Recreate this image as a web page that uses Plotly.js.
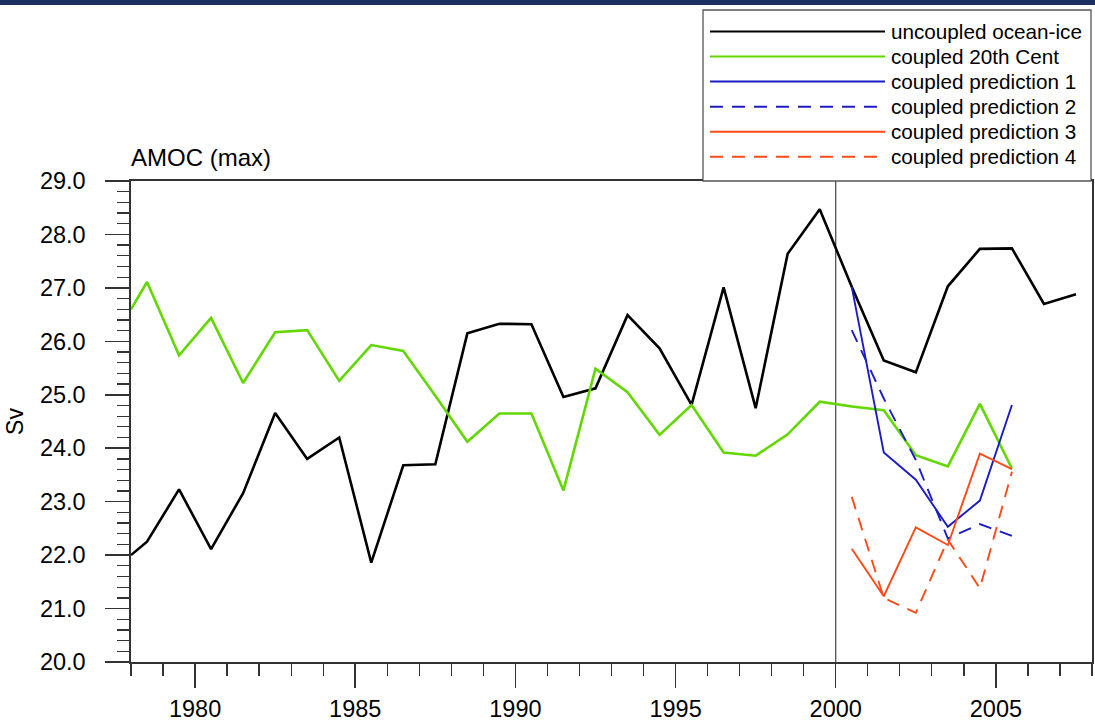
<!DOCTYPE html>
<html>
<head>
<meta charset="utf-8">
<script src="https://cdn.plot.ly/plotly-3.0.1.min.js"></script>
<style>
  html, body { margin: 0; padding: 0; background: #ffffff; }
  #chart { width: 1095px; height: 725px; }
</style>
</head>
<body>
<div id="chart"></div>
<script>
// ---- data ----
const yearsUncoupled = [1978.0, 1978.5, 1979.5, 1980.5, 1981.5, 1982.5, 1983.5, 1984.5, 1985.5, 1986.5,
  1987.5, 1988.5, 1989.5, 1990.5, 1991.5, 1992.5, 1993.5, 1994.5, 1995.5, 1996.5,
  1997.5, 1998.5, 1999.5, 2000.5, 2001.5, 2002.5, 2003.5, 2004.5, 2005.5, 2006.5, 2007.5];
const uncoupledOceanIce = [22.00, 22.25, 23.23, 22.11, 23.16, 24.66, 23.80, 24.20, 21.86, 23.68,
  23.70, 26.15, 26.33, 26.32, 24.96, 25.12, 26.49, 25.87, 24.81, 27.01,
  24.75, 27.64, 28.47, 27.02, 25.64, 25.42, 27.03, 27.73, 27.74, 26.70, 26.88];

const years20thCent = [1978.0, 1978.5, 1979.5, 1980.5, 1981.5, 1982.5, 1983.5, 1984.5, 1985.5, 1986.5,
  1987.5, 1988.5, 1989.5, 1990.5, 1991.5, 1992.5, 1993.5, 1994.5, 1995.5, 1996.5,
  1997.5, 1998.5, 1999.5, 2000.5, 2001.5, 2002.5, 2003.5, 2004.5, 2005.5];
const coupled20thCent = [26.60, 27.11, 25.74, 26.44, 25.22, 26.17, 26.21, 25.26, 25.93, 25.82,
  24.98, 24.12, 24.65, 24.65, 23.21, 25.49, 25.05, 24.25, 24.81, 23.92,
  23.86, 24.26, 24.87, 24.78, 24.71, 23.87, 23.66, 24.83, 23.62];

const yearsPrediction = [2000.5, 2001.5, 2002.5, 2003.5, 2004.5, 2005.5];
const prediction1 = [27.02, 23.92, 23.41, 22.53, 23.02, 24.81];
const prediction2 = [26.21, 24.93, 23.78, 22.31, 22.58, 22.36];
const prediction3 = [22.12, 21.23, 22.52, 22.19, 23.90, 23.61];
const prediction4 = [23.09, 21.20, 20.92, 22.29, 21.38, 23.56];

const seriesNames = ['uncoupled ocean-ice', 'coupled 20th Cent', 'coupled prediction 1',
  'coupled prediction 2', 'coupled prediction 3', 'coupled prediction 4'];
const yTickVals = [20, 21, 22, 23, 24, 25, 26, 27, 28, 29];
const xTickVals = [1980, 1985, 1990, 1995, 2000, 2005];
const initYear = 2000;

// ---- styling ----
const FONT = 'Liberation Sans, Arial, Helvetica, sans-serif';
const BLACK = '#000000';
const GREEN = '#62d800';
const BLUE = '#1c1cc6';
const ORANGE = '#ff4a17';
const styles = [
  {color: BLACK, width: 2.6, dash: 'solid'},
  {color: GREEN, width: 2.6, dash: 'solid'},
  {color: BLUE, width: 1.9, dash: 'solid'},
  {color: BLUE, width: 1.9, dash: '13px,9px'},
  {color: ORANGE, width: 1.9, dash: 'solid'},
  {color: ORANGE, width: 1.9, dash: '13px,9px'}
];
const xs = [yearsUncoupled, years20thCent, yearsPrediction, yearsPrediction, yearsPrediction, yearsPrediction];
const ys = [uncoupledOceanIce, coupled20thCent, prediction1, prediction2, prediction3, prediction4];

const traces = ys.map((y, i) => ({
  x: xs[i], y: y, name: seriesNames[i], type: 'scatter', mode: 'lines',
  line: {color: styles[i].color, width: styles[i].width, dash: styles[i].dash},
  showlegend: false
}));

// plot area geometry (px) for legend placement in paper coords
const L = 131, T = 181, W = 961, H = 481;
const px2x = p => (p - L) / W;
const py2y = p => (T + H - p) / H;

const shapes = [
  // navy bar across the very top
  {type: 'rect', xref: 'paper', yref: 'paper', x0: px2x(-10), x1: px2x(1105), y0: py2y(5), y1: py2y(-10),
   fillcolor: '#1b2f60', line: {width: 0}, layer: 'above'},
  // vertical line at initialisation year
  {type: 'line', xref: 'x', yref: 'paper', x0: initYear, x1: initYear, y0: 0, y1: 1,
   line: {color: '#444444', width: 1.2}, layer: 'below'},
  // legend box
  {type: 'rect', xref: 'paper', yref: 'paper', x0: px2x(703), x1: px2x(1091), y0: py2y(181), y1: py2y(10),
   fillcolor: '#ffffff', line: {color: '#555555', width: 1.3}, layer: 'above'}
];
const annotations = [];
seriesNames.forEach((name, i) => {
  const py = 31.5 + 25.05 * i;
  shapes.push({type: 'line', xref: 'paper', yref: 'paper', x0: px2x(710), x1: px2x(885), y0: py2y(py), y1: py2y(py),
    line: {color: styles[i].color, width: 2, dash: styles[i].dash}, layer: 'above'});
  annotations.push({xref: 'paper', yref: 'paper', x: px2x(889), y: py2y(py), xanchor: 'left', yanchor: 'middle',
    text: name, showarrow: false, font: {family: FONT, size: 20.7, color: '#000'}});
});

const axisCommon = {
  showline: true, mirror: true, linecolor: '#333333', linewidth: 1.6,
  ticks: 'outside', ticklen: 24, tickwidth: 1.5, tickcolor: '#333333',
  showgrid: false, zeroline: false,
  tickfont: {family: FONT, size: 23.5, color: '#000'}
};

const layout = {
  width: 1095, height: 725,
  margin: {l: L, r: 1095 - L - W, t: T, b: 725 - T - H, pad: 0},
  paper_bgcolor: '#ffffff', plot_bgcolor: '#ffffff',
  font: {family: FONT, color: '#000'},
  showlegend: false,
  title: {text: 'AMOC (max)', xref: 'paper', x: 0, xanchor: 'left', yref: 'container', y: 1 - 158 / 725, yanchor: 'middle',
          font: {family: FONT, size: 24, color: '#000'}},
  xaxis: Object.assign({}, axisCommon, {
    range: [1978, 2008], tickmode: 'array', tickvals: xTickVals, ticktext: xTickVals.map(String),
    ticklabelstandoff: 1,
    minor: {dtick: 1, tick0: 1978, ticks: 'outside', ticklen: 12, tickwidth: 1.3, tickcolor: '#333333', showgrid: false}
  }),
  yaxis: Object.assign({}, axisCommon, {
    range: [20, 29], tickmode: 'array', tickvals: yTickVals, ticktext: yTickVals.map(v => v.toFixed(1)),
    ticklabelstandoff: 15,
    minor: {dtick: 0.2, tick0: 20, ticks: 'outside', ticklen: 12, tickwidth: 1.3, tickcolor: '#333333', showgrid: false},
    title: {text: 'Sv', font: {family: FONT, size: 23, color: '#000'}, standoff: 10}
  }),
  shapes: shapes,
  annotations: annotations
};

Plotly.newPlot('chart', traces, layout, {displayModeBar: false, staticPlot: true});
</script>
</body>
</html>
